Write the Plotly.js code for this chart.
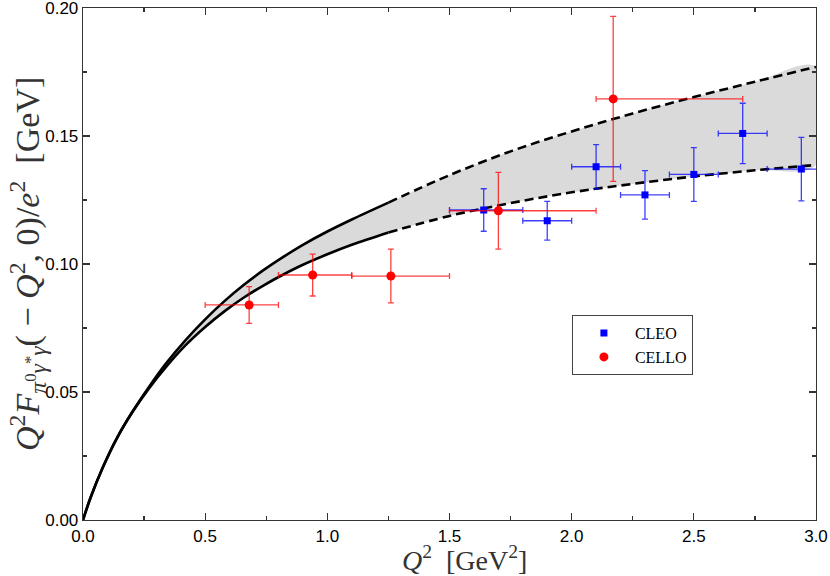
<!DOCTYPE html>
<html>
<head>
<meta charset="utf-8">
<script src="https://cdn.plot.ly/plotly-3.0.1.min.js"></script>
<style>
  body { margin: 0; background: #fff; }
  #myDiv { width: 830px; height: 576px; }
</style>
</head>
<body>
<div id="myDiv"></div>
<script>
// theory band (solid part, then dashed extrapolation)
var q2Solid    = [0, 0.03, 0.08, 0.14, 0.20, 0.27, 0.34, 0.42, 0.50, 0.58, 0.66, 0.74, 0.82, 0.90, 1.00, 1.10, 1.25];
var upperSolid = [0, 0.0085, 0.0203, 0.0322, 0.0420, 0.0520, 0.0612, 0.0703, 0.0784, 0.0856, 0.0920, 0.0977, 0.1028, 0.1075, 0.1127, 0.1174, 0.1240];
var lowerSolid = [0, 0.0085, 0.0203, 0.0322, 0.0418, 0.0514, 0.0598, 0.0683, 0.0754, 0.0816, 0.0870, 0.0917, 0.0959, 0.0997, 0.1038, 0.1075, 0.1123];

var q2Dash    = [1.25, 1.50, 1.75, 2.00, 2.25, 2.50, 2.75, 3.00];
var upperDash = [0.1240, 0.1347, 0.1440, 0.1518, 0.1588, 0.1652, 0.1712, 0.1770];
var lowerDash = [0.1123, 0.1188, 0.1238, 0.1280, 0.1313, 0.1342, 0.1366, 0.1387];

// CLEO data
var cleoQ2    = [1.64, 1.90, 2.10, 2.30, 2.50, 2.70, 2.94];
var cleoF     = [0.1211, 0.1169, 0.1380, 0.1270, 0.1350, 0.1510, 0.1371];
var cleoErrY  = [0.0083, 0.0076, 0.0086, 0.0095, 0.0105, 0.0118, 0.0124];
var cleoXlo   = [1.50, 1.80, 2.00, 2.20, 2.40, 2.60, 2.80];
var cleoXhi   = [1.80, 2.00, 2.20, 2.40, 2.60, 2.80, 3.10];

// CELLO data
var celloQ2   = [0.68, 0.94, 1.26, 1.70, 2.17];
var celloF    = [0.0840, 0.0957, 0.0953, 0.1208, 0.1645];
var celloErrY = [0.0072, 0.0082, 0.0105, 0.0150, 0.0322];
var celloXlo  = [0.50, 0.80, 1.10, 1.50, 2.10];
var celloXhi  = [0.80, 1.10, 1.50, 2.10, 2.70];

function minus(a, b) { return a.map(function (v, i) { return v - b[i]; }); }

var q2All = q2Solid.concat(q2Dash.slice(1));
var upAll = upperSolid.concat(upperDash.slice(1));
var loAll = lowerSolid.concat(lowerDash.slice(1));

var band = {
  x: q2All.concat(q2All.slice().reverse()),
  y: upAll.concat(loAll.slice().reverse()),
  mode: 'lines', fill: 'toself', fillcolor: 'rgb(218,218,218)',
  line: {width: 0, shape: 'spline'}, hoverinfo: 'skip', showlegend: false
};

function curve(x, y, dash) {
  return {x: x, y: y, mode: 'lines', showlegend: false, hoverinfo: 'skip',
    line: {color: 'black', width: 2.6, dash: dash, shape: 'spline'}};
}

var cleo = {
  x: cleoQ2, y: cleoF, mode: 'markers', name: 'CLEO',
  marker: {color: 'rgb(0,0,255)', size: 7, symbol: 'square'},
  error_y: {type: 'data', array: cleoErrY, color: 'rgba(0,0,255,0.75)', thickness: 1.3, width: 3},
  error_x: {type: 'data', symmetric: false, array: minus(cleoXhi, cleoQ2), arrayminus: minus(cleoQ2, cleoXlo),
    color: 'rgba(0,0,255,0.75)', thickness: 1.3, width: 3}
};

var cello = {
  x: celloQ2, y: celloF, mode: 'markers', name: 'CELLO',
  marker: {color: 'rgb(255,0,0)', size: 9, symbol: 'circle'},
  error_y: {type: 'data', array: celloErrY, color: 'rgba(255,0,0,0.75)', thickness: 1.3, width: 3},
  error_x: {type: 'data', symmetric: false, array: minus(celloXhi, celloQ2), arrayminus: minus(celloQ2, celloXlo),
    color: 'rgba(255,0,0,0.75)', thickness: 1.3, width: 3}
};

var data = [band,
  curve(q2Solid, upperSolid, 'solid'), curve(q2Solid, lowerSolid, 'solid'),
  curve(q2Dash, upperDash, '9px,5px'), curve(q2Dash, lowerDash, '9px,5px'),
  cleo, cello];

var axisCommon = {
  showgrid: false, zeroline: false, showline: true, mirror: 'ticks',
  linecolor: '#333', linewidth: 1.3, ticks: 'inside', ticklen: 7, tickwidth: 1.2, tickcolor: '#333',
  ticklabeloverflow: 'allow',
  tickfont: {family: 'Liberation Sans, Arial, sans-serif', size: 17, color: 'black'}
};

var serif = 'Liberation Serif, Times New Roman, serif';

var layout = {
  width: 830, height: 576,
  margin: {l: 83, r: 14, t: 8, b: 56},
  paper_bgcolor: 'white', plot_bgcolor: 'white',
  xaxis: Object.assign({}, axisCommon, {
    range: [0, 3], dtick: 0.5, tick0: 0, tickformat: '.1f',
    minor: {dtick: 0.25, ticks: 'inside', ticklen: 4, tickcolor: '#333'}
  }),
  yaxis: Object.assign({}, axisCommon, {
    range: [0, 0.20001], dtick: 0.05, tick0: 0, tickformat: '.2f',
    minor: {dtick: 0.025, ticks: 'inside', ticklen: 4, tickcolor: '#333'}
  }),
  annotations: [
    {xref: 'paper', yref: 'paper', x: 0.52, y: 0, yshift: -38, xanchor: 'center', yanchor: 'middle',
      showarrow: false, text: '<i>Q</i><sup>2</sup>  [GeV<sup>2</sup>]',
      font: {family: serif, size: 28, color: '#333'}},
    {xref: 'paper', yref: 'paper', x: 0, xshift: -56, y: 0.5, xanchor: 'center', yanchor: 'middle',
      textangle: -90, showarrow: false,
      text: '<i>Q</i><sup>2</sup><i>F</i><sub><i>π</i><sup>0</sup><i>γ</i><sup>*</sup><i>γ</i></sub>( − <i>Q</i><sup>2</sup>, 0)/<i>e</i><sup>2</sup>  [GeV]',
      font: {family: serif, size: 34, color: '#333'}}
  ],
  legend: {
    x: 0.667, y: 0.40, xanchor: 'left', yanchor: 'top',
    bgcolor: 'white', bordercolor: '#444', borderwidth: 1,
    font: {family: serif, size: 16, color: 'black'},
    itemwidth: 52, tracegroupgap: 0
  }
};

Plotly.newPlot('myDiv', data, layout, {displayModeBar: false, staticPlot: true});
</script>
</body>
</html>
